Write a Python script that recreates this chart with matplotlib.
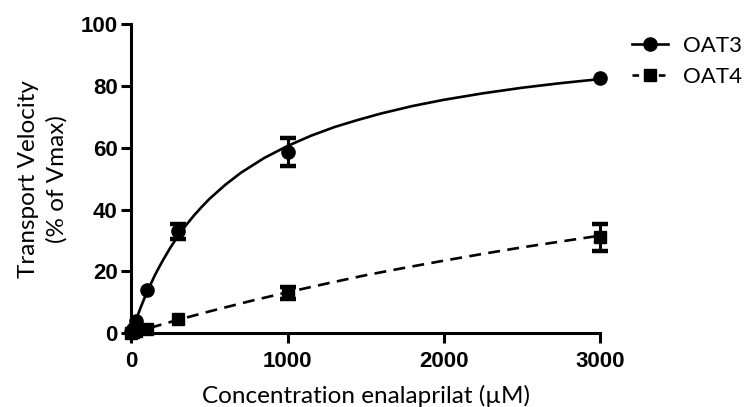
import numpy as np
import matplotlib
matplotlib.use('Agg')
import matplotlib.pyplot as plt

# measured points (mean, error); nan = error bar hidden by the marker
conc = [0, 10, 30, 100, 300, 1000, 3000]
oat3 = [0.5, 1.5, 4.0, 14.0, 33.0, 58.5, 82.5]
oat3_err = [np.nan, np.nan, np.nan, np.nan, 2.5, 4.5, np.nan]
oat4 = [0.0, 0.3, 0.8, 1.5, 4.5, 13.0, 31.0]
oat4_err = [np.nan, np.nan, np.nan, np.nan, np.nan, 2.0, 4.5]

# fitted curves
fit3_x = [0, 10, 25, 40, 60, 80, 100, 125, 150, 175, 200, 250, 300, 350, 400, 450,
          500, 600, 700, 850, 1000, 1150, 1300, 1450, 1600, 1800, 2000, 2250, 2500,
          2750, 3000]
fit3_y = [0, 1.5, 3.7, 5.8, 8.5, 11.0, 13.3, 16.1, 18.8, 21.2, 23.5, 27.8, 31.6,
          35.0, 38.1, 40.9, 43.5, 48.0, 51.9, 56.7, 60.6, 63.9, 66.7, 69.0, 71.1,
          73.5, 75.5, 77.6, 79.4, 80.9, 82.2]
fit4_x = [0, 100, 300, 500, 750, 1000, 1250, 1500, 1750, 2000, 2250, 2500, 2750, 3000]
fit4_y = [0, 1.5, 4.4, 7.1, 10.3, 13.3, 16.1, 18.8, 21.2, 23.5, 25.7, 27.8, 29.7, 31.6]

xticks = [0, 1000, 2000, 3000]
yticks = [0, 20, 40, 60, 80, 100]

txt_font = ['Lato', 'DejaVu Sans']

fig = plt.figure(figsize=(7.44, 4.07), dpi=100)
ax = fig.add_axes([0.1767, 0.181, 0.630, 0.760])

ax.plot(fit3_x, fit3_y, '-', color='black', lw=1.9, clip_on=False)
ax.plot(fit4_x, fit4_y, '--', color='black', lw=1.9, dashes=(4.5, 2.8), clip_on=False)

e3 = ax.errorbar(conc, oat3, yerr=oat3_err, fmt='o', color='black', ms=9.5,
                 capsize=5.5, capthick=3.2, elinewidth=2.2, clip_on=False)
e4 = ax.errorbar(conc, oat4, yerr=oat4_err, fmt='s', color='black', ms=9,
                 capsize=5.5, capthick=3.2, elinewidth=2.2, clip_on=False)
for e in (e3, e4):
    for part in e.lines[1] + e.lines[2]:
        part.set_clip_on(False)

# legend handles
h3, = ax.plot([], [], '-o', color='black', lw=1.9, ms=9.5)
h4, = ax.plot([], [], '--s', color='black', lw=1.9, ms=9, dashes=(2.5, 2.5))
ax.legend([h3, h4], ['OAT3', 'OAT4'], loc='upper left',
          bbox_to_anchor=(0.835, 0.94), bbox_transform=fig.transFigure,
          frameon=False, handlelength=1.6, handletextpad=0.7, labelspacing=0.5,
          borderpad=0, prop={'family': txt_font, 'size': 16})

ax.set_xlim(0, 3000)
ax.set_ylim(0, 100)
ax.set_xticks(xticks)
ax.set_yticks(yticks)
for s in ['top', 'right']:
    ax.spines[s].set_visible(False)
for s in ['left', 'bottom']:
    ax.spines[s].set_linewidth(2.2)
ax.tick_params(width=2.2, length=7, direction='out', pad=3)
ax.tick_params(axis='x', pad=6)
for lab in ax.get_xticklabels() + ax.get_yticklabels():
    lab.set_fontfamily('Liberation Sans')
    lab.set_fontweight('bold')
    lab.set_fontsize(16)

ax.set_xlabel('Concentration enalaprilat (\u00b5M)', family=txt_font, fontsize=17.5, labelpad=9)
ax.set_ylabel('Transport Velocity\n(% of Vmax)', family=txt_font, fontsize=17.5,
              labelpad=9, linespacing=1.4)

fig.savefig('out.png', dpi=100)
